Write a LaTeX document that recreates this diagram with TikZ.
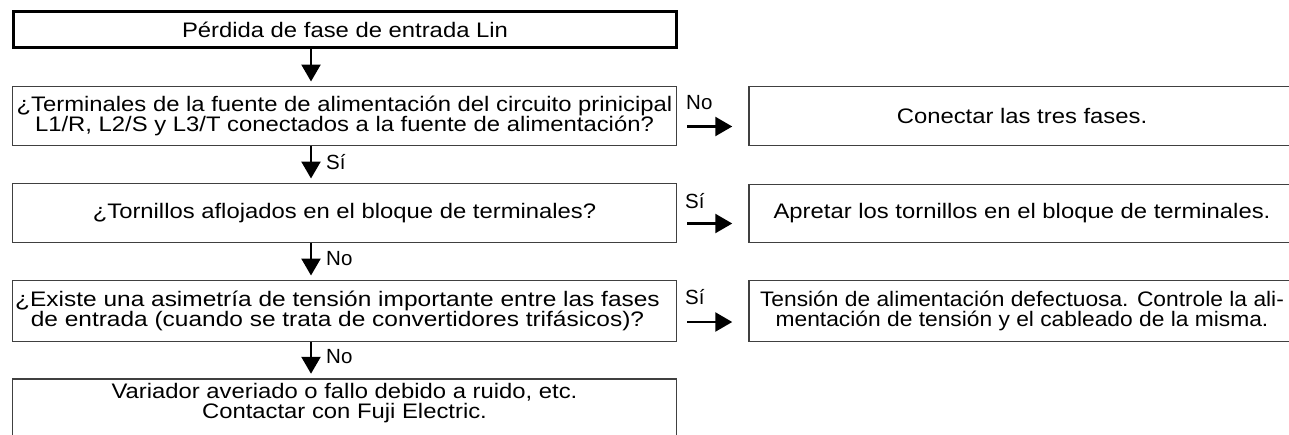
\documentclass[tikz,border=0pt]{standalone}
\usepackage{fontspec}
\setmainfont{Liberation Sans}[FakeStretch=1.135]
\newfontfamily\widefont{Liberation Sans}[FakeStretch=1.165]
\newfontfamily\condfont{Liberation Sans}[FakeStretch=1.085]
\newfontfamily\lblfont{Liberation Sans}
\usetikzlibrary{arrows.meta}
\begin{document}
\begin{tikzpicture}[x=1pt,y=-1pt,
  box/.style={draw=black!75, line width=1.5pt, inner sep=0pt, outer sep=0pt, align=center,
    minimum width=664pt, font=\fontsize{21pt}{20pt}\selectfont},
  startbox/.style={box, draw=black, line width=3pt, minimum width=663pt, minimum height=36pt},
  rbox/.style={box, minimum width=546pt},
  lbl/.style={font=\lblfont\fontsize{20.5pt}{20pt}\selectfont, inner sep=0pt, anchor=base west},
  varr/.style={line width=2.5pt, -{Triangle[length=17pt,width=19pt]}, shorten >=5pt},
  harr/.style={line width=2.5pt, -{Triangle[length=17pt,width=19pt]}},
]
\useasboundingbox (0,0) rectangle (1289,434);
\coordinate (ax) at (311,0);

\node[startbox] (b1) at (345,29.5) {Pérdida de fase de entrada Lin};
\node[box, minimum height=59pt] (b2) at (344.5,116)
  {¿Terminales de la fuente de alimentación del circuito prinicipal\\L1/R, L2/S y L3/T conectados a la fuente de alimentación?};
\node[box, minimum height=59pt] (b3) at (344.5,213)
  {¿Tornillos aflojados en el bloque de terminales?};
\node[box, minimum height=61pt, font=\widefont\fontsize{21pt}{20pt}\selectfont] (b4) at (344.5,311)
  {\hspace*{-14pt}¿Existe una asimetría de tensión importante entre las fases\\\hspace*{-14pt}de entrada (cuando se trata de convertidores trifásicos)?};
\node[box, anchor=north, inner ysep=4.7pt, text depth=60pt] (b5) at (344.5,378.75)
  {Variador averiado o fallo debido a ruido, etc.\\Contactar con Fuji Electric.};

\node[rbox, minimum height=59pt] (r1) at (1022,116) {Conectar las tres fases.};
\node[rbox, minimum height=58pt] (r2) at (1022,213.5) {Apretar los tornillos en el bloque de terminales.};
\node[rbox, minimum height=61pt, font=\condfont\fontsize{21pt}{20pt}\selectfont] (r3) at (1022,311)
  {Tensión de alimentación defectuosa. Controle la ali-\\mentación de tensión y el cableado de la misma.};

\draw[varr] (b1.south -| ax) -- (b2.north -| ax);
\draw[varr] (b2.south -| ax) -- (b3.north -| ax);
\draw[varr] (b3.south -| ax) -- (b4.north -| ax);
\draw[varr] (b4.south -| ax) -- (b5.north -| ax);

\draw[harr] ([xshift=10.75pt,yshift=19pt]b2.south east) -- ([xshift=-16.75pt,yshift=19pt]r1.south west);
\draw[harr] ([xshift=10.75pt,yshift=19pt]b3.south east) -- ([xshift=-16.75pt,yshift=19pt]r2.south west);
\draw[harr] ([xshift=10.75pt,yshift=19.5pt]b4.south east) -- ([xshift=-16.75pt,yshift=19.5pt]r3.south west);

\node[lbl] (l1) at (686,109) {No};
\node[lbl] (l2) at (326,169) {Sí};
\node[lbl] (l3) at (685,208) {Sí};
\node[lbl] (l4) at (326,265) {No};
\node[lbl] (l5) at (685,304) {Sí};
\node[lbl] (l6) at (326,363) {No};
\end{tikzpicture}
\end{document}
